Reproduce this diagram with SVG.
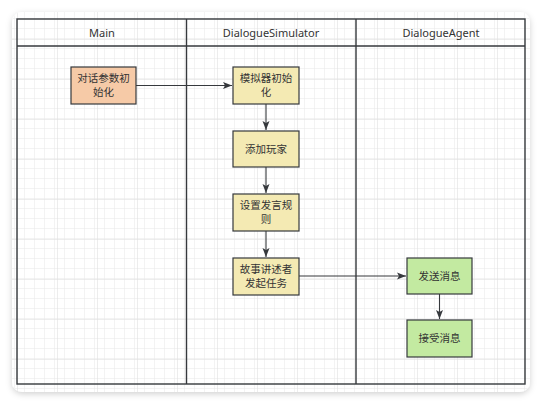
<svg xmlns="http://www.w3.org/2000/svg" width="544" height="406" viewBox="0 0 544 406">
<style>
.lane{fill:none;stroke:#36393d;stroke-width:1.4}
.node{stroke:#36393d;stroke-width:1.2}
.peach{fill:#f6caa7}
.yellow{fill:#f4eab3}
.green{fill:#c3eaa1}
.t{font-family:"Noto Sans","Noto Sans CJK SC",sans-serif;font-size:10.5px;fill:#333;text-anchor:middle}
.h{font-size:11px}
.edge{fill:none;stroke:#36393d;stroke-width:1.1}
</style>
<defs>
<filter id="sh" x="-10%" y="-10%" width="120%" height="120%">
<feDropShadow dx="0" dy="2" stdDeviation="3" flood-color="#000" flood-opacity="0.18"/>
</filter>
<pattern id="minor" width="10" height="10" patternUnits="userSpaceOnUse" x="17" y="-1">
<path d="M0 0H10M0 0V10" fill="none" stroke="#e8e8e8" stroke-width="1"/>
</pattern>
<pattern id="major" width="40" height="40" patternUnits="userSpaceOnUse" x="17" y="-1">
<rect width="40" height="40" fill="url(#minor)"/>
<path d="M0 0H40M0 0V40" fill="none" stroke="#dcdcdc" stroke-width="1"/>
</pattern>
<clipPath id="card"><rect x="12" y="12" width="518" height="380" rx="10"/></clipPath>
<marker id="arr" markerWidth="10" markerHeight="8" refX="9" refY="4" orient="auto" markerUnits="userSpaceOnUse">
<path d="M0 0.5L9 4L0 7.5L2 4Z" fill="#36393d"/>
</marker>
</defs>
<rect x="0" y="0" width="544" height="406" fill="#ffffff"/>
<rect x="12" y="12" width="518" height="380" rx="10" fill="#ffffff" filter="url(#sh)"/>
<rect x="12" y="12" width="518" height="380" fill="url(#major)" clip-path="url(#card)"/>
<g id="pool">
<rect x="17" y="19" width="508" height="365" fill="none" class="lane"/>
<line x1="17" y1="46" x2="525" y2="46" class="lane"/>
<line x1="186.5" y1="19" x2="186.5" y2="384" class="lane"/>
<line x1="356" y1="19" x2="356" y2="384" class="lane"/>
<text class="t h" x="102" y="37">Main</text>
<text class="t h" x="271" y="37">DialogueSimulator</text>
<text class="t h" x="441" y="37">DialogueAgent</text>
</g>
<g id="connectors">
<path class="edge" d="M136 85.5H232" marker-end="url(#arr)"/>
<path class="edge" d="M266 104V130" marker-end="url(#arr)"/>
<path class="edge" d="M266 167V193" marker-end="url(#arr)"/>
<path class="edge" d="M266 231V257" marker-end="url(#arr)"/>
<path class="edge" d="M299 276H406" marker-end="url(#arr)"/>
<path class="edge" d="M439.5 294V319" marker-end="url(#arr)"/>
</g>
<g id="n1"><rect class="node peach" x="71" y="67" width="65" height="37"/><text class="t" x="103.5" y="82">对话参数初</text><text class="t" x="103.5" y="96">始化</text></g>
<g id="n2"><rect class="node yellow" x="233" y="67" width="66" height="37"/><text class="t" x="266" y="82">模拟器初始</text><text class="t" x="266" y="96">化</text></g>
<g id="n3"><rect class="node yellow" x="233" y="131" width="66" height="36"/><text class="t" x="266" y="153">添加玩家</text></g>
<g id="n4"><rect class="node yellow" x="233" y="194" width="66" height="37"/><text class="t" x="266" y="209">设置发言规</text><text class="t" x="266" y="223">则</text></g>
<g id="n5"><rect class="node yellow" x="233" y="258" width="66" height="37"/><text class="t" x="266" y="273">故事讲述者</text><text class="t" x="266" y="287">发起任务</text></g>
<g id="n6"><rect class="node green" x="407" y="258" width="65" height="36"/><text class="t" x="439.5" y="280">发送消息</text></g>
<g id="n7"><rect class="node green" x="407" y="320" width="65" height="37"/><text class="t" x="439.5" y="342">接受消息</text></g>
</svg>
